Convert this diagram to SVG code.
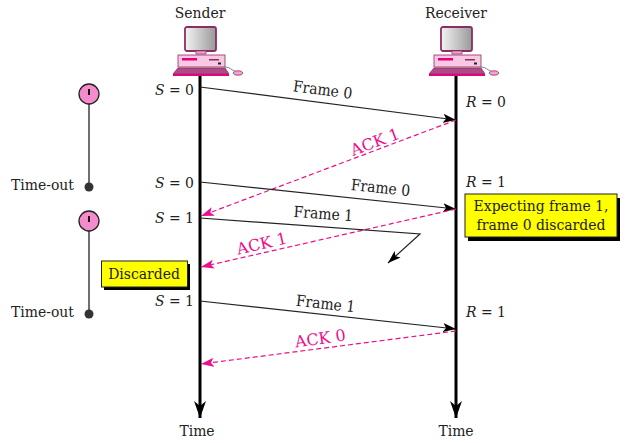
<svg xmlns="http://www.w3.org/2000/svg" width="625" height="443" viewBox="0 0 625 443">
<style>
text{font-family:"DejaVu Serif Condensed","DejaVu Serif","Liberation Serif",serif;font-size:15.5px;fill:#222;}
.m{text-anchor:middle}
.i{font-style:italic}
.ack{fill:#ec0f8c;font-family:"DejaVu Serif","Liberation Serif",serif;font-size:16px}
.s{stroke:#222;stroke-width:1.2;fill:none}
.d{stroke:#ec0f8c;stroke-width:1.2;stroke-dasharray:5 3;fill:none}
.v{stroke:#000;stroke-width:3;fill:none}
.t{stroke:#222;stroke-width:1.3;fill:none}
.y{fill:#ffff00;stroke:#222;stroke-width:1}
</style>
<defs>
<marker id="ab" markerUnits="userSpaceOnUse" markerWidth="14" markerHeight="10" refX="13" refY="5" orient="auto"><path d="M0 0.500L13 5L0 9.500L3 5Z" fill="#000"/></marker>
<marker id="ap" markerUnits="userSpaceOnUse" markerWidth="14" markerHeight="10" refX="13" refY="5" orient="auto"><path d="M0 0.500L13 5L0 9.500L3 5Z" fill="#ec0f8c"/></marker>
<marker id="av" markerUnits="userSpaceOnUse" markerWidth="18" markerHeight="14" refX="17" refY="7" orient="auto"><path d="M0 1L17 7L0 13L5 7Z" fill="#000"/></marker>
<linearGradient id="scr" x1="0" x2="1"><stop offset="0" stop-color="#f4f4f4"/><stop offset="1" stop-color="#999"/></linearGradient>
<g id="pc">
<rect x="0" y="-1" width="31" height="24" rx="2" fill="url(#scr)" stroke="#8b2f62" stroke-width="1.800"/>
<rect x="11" y="23" width="10" height="3" fill="#f2a3cf" stroke="#8b2f62" stroke-width=".7"/>
<rect x="-7" y="27" width="47" height="12" fill="#f9c9e4" stroke="#8b2f62" stroke-width=".8"/>
<rect x="-3" y="30" width="15" height="2.500" fill="#e6007e"/>
<rect x="24" y="31" width="10" height="1.500" fill="#8b2f62"/>
<rect x="33" y="34.500" width="3" height="2" fill="#222"/>
<path d="M-7 40H40L44 46H-12Z" fill="#b04a87" stroke="#8b2f62" stroke-width=".8"/>
<path d="M-12 46H44V48H-12Z" fill="#e6007e"/>
<path d="M40 39C45 39 46 42 50 43" fill="none" stroke="#555" stroke-width=".7"/>
<ellipse cx="53" cy="45" rx="4.500" ry="2.200" fill="#f2a3cf" stroke="#8b2f62" stroke-width=".8"/>
</g>
</defs>
<g id="connectors">
<path class="v" d="M200 76V418" marker-end="url(#av)"/>
<path class="v" d="M456 76V418" marker-end="url(#av)"/>
<path class="s" d="M200 87L456 120" marker-end="url(#ab)"/>
<path class="d" d="M456 120L201 216" marker-end="url(#ap)"/>
<path class="s" d="M200 182L456 209" marker-end="url(#ab)"/>
<path class="d" d="M456 209L201 267" marker-end="url(#ap)"/>
<path class="s" d="M200 218L420 234L388 263" marker-end="url(#ab)"/>
<path class="s" d="M200 301L456 329" marker-end="url(#ab)"/>
<path class="d" d="M456 331L201 364" marker-end="url(#ap)"/>
<path class="t" d="M89 104V187"/>
<path class="t" d="M89 231V314"/>
</g>
<g id="sender"><use href="#pc" x="185" y="28"/><text class="m" x="200" y="18">Sender</text></g>
<g id="receiver"><use href="#pc" x="441" y="28"/><text class="m" x="456" y="18">Receiver</text></g>
<g id="timer1"><circle cx="89" cy="94" r="10" fill="#f48ccb" stroke="#222" stroke-width="1.300"/><path d="M89 89V95" stroke="#111" stroke-width="2"/></g>
<g id="timeout1"><circle cx="89" cy="187" r="4.500" fill="#333"/><text x="11" y="190">Time-out</text></g>
<g id="timer2"><circle cx="89" cy="221" r="10" fill="#f48ccb" stroke="#222" stroke-width="1.300"/><path d="M89 216V222" stroke="#111" stroke-width="2"/></g>
<g id="timeout2"><circle cx="89" cy="314" r="4.500" fill="#333"/><text x="11" y="317">Time-out</text></g>
<g id="discarded"><rect x="104" y="264" width="86" height="26" fill="#000"/><rect class="y" x="101.500" y="261" width="86" height="26"/><text class="m" x="144" y="279">Discarded</text></g>
<g id="expecting"><rect x="468" y="198" width="152" height="43" fill="#000"/><rect class="y" x="465" y="194" width="152" height="43"/><text class="m" x="541" y="211">Expecting frame 1,</text><text class="m" x="541" y="230">frame 0 discarded</text></g>
<g id="labels">
<text x="155" y="95"><tspan class="i">S</tspan> = 0</text>
<text x="155" y="188"><tspan class="i">S</tspan> = 0</text>
<text x="155" y="223"><tspan class="i">S</tspan> = 1</text>
<text x="155" y="306"><tspan class="i">S</tspan> = 1</text>
<text x="466" y="107"><tspan class="i">R</tspan> = 0</text>
<text x="466" y="187"><tspan class="i">R</tspan> = 1</text>
<text x="466" y="317"><tspan class="i">R</tspan> = 1</text>
<text class="m" x="322" y="95" transform="rotate(7.300 322 95)">Frame 0</text>
<text class="m" x="380" y="193" transform="rotate(6 380 193)">Frame 0</text>
<text class="m" x="323" y="219" transform="rotate(4 323 219)">Frame 1</text>
<text class="m" x="325" y="309" transform="rotate(6.200 325 309)">Frame 1</text>
<text class="m ack" x="377" y="147" transform="rotate(-20.500 377 147)">ACK 1</text>
<text class="m ack" x="263" y="249" transform="rotate(-12.800 263 249)">ACK 1</text>
<text class="m ack" x="321" y="344" transform="rotate(-8 321 344)">ACK 0</text>
<text class="m" x="197" y="436">Time</text>
<text class="m" x="456" y="436">Time</text>
</g>
</svg>
